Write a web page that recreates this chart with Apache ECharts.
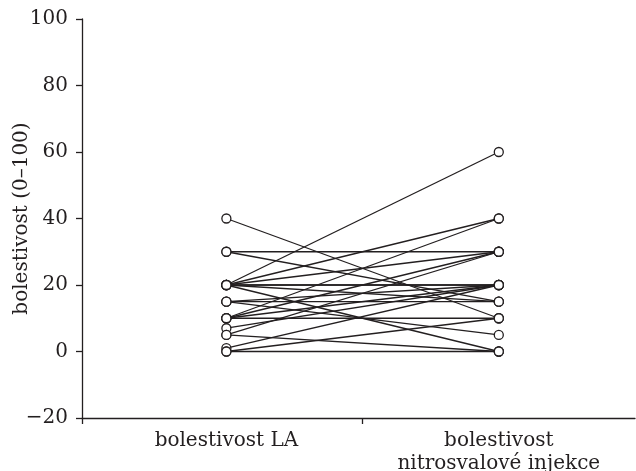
<!DOCTYPE html>
<html>
<head>
<meta charset="utf-8">
<script src="https://cdn.jsdelivr.net/npm/echarts@6/dist/echarts.min.js"></script>
<style>html,body{margin:0;padding:0;background:#fff}#c{width:636px;height:471px}</style>
</head>
<body>
<div id="c"></div>
<script>
var categories = ['bolestivost LA', 'bolestivost\nnitrosvalové injekce'];
var yTicks = [-20, 0, 20, 40, 60, 80, 100];
// paired values: before (LA) and after (nitrosvalová injekce)
var valuesLA =  [40, 30, 30, 20, 20, 20, 20, 20, 20, 20, 15, 15, 15, 10, 10, 10, 10, 7, 5, 5, 1, 0, 0];
var valuesInj = [10, 30, 15, 60, 40, 30, 20, 20, 15, 0, 15, 5, 20, 10, 40, 20, 30, 20, 30, 0, 20, 0, 10];

var ink = '#231f20';
var serif = 'DejaVu Serif';
var series = [];
for (var i = 0; i < valuesLA.length; i++) {
  series.push({
    type: 'line',
    data: [[1, valuesLA[i]], [2, valuesInj[i]]],
    symbol: 'none',
    lineStyle: { color: ink, width: 1.3 },
    z: 2,
    silent: true
  });
}
var pts = [];
for (var j = 0; j < valuesLA.length; j++) {
  pts.push([1, valuesLA[j]]);
  pts.push([2, valuesInj[j]]);
}
series.push({
  type: 'scatter',
  data: pts,
  symbol: 'circle',
  symbolSize: 9,
  itemStyle: { color: '#fff', borderColor: ink, borderWidth: 1.3, opacity: 1 },
  z: 5,
  silent: true
});

var chart = echarts.init(document.getElementById('c'), null, { renderer: 'canvas' });
chart.setOption({
  animation: false,
  backgroundColor: '#fff',
  grid: { left: 82, right: 1, top: 19, bottom: 53, containLabel: false, outerBoundsMode: 'none' },
  xAxis: {
    type: 'value',
    min: 0.47,
    max: 2.5,
    axisLine: { show: true, onZero: false, lineStyle: { color: ink, width: 1.3 } },
    axisTick: { show: true, customValues: [0.47, 1.5], length: 6, lineStyle: { color: ink, width: 1.3 } },
    axisLabel: {
      customValues: [1, 2],
      formatter: function (v) { return categories[Math.round(v) - 1]; },
      fontFamily: serif, fontSize: 20, color: ink, lineHeight: 23, margin: 11
    },
    splitLine: { show: false }
  },
  yAxis: {
    type: 'value',
    min: yTicks[0],
    max: yTicks[yTicks.length - 1],
    interval: 20,
    name: 'bolestivost (0–100)',
    nameLocation: 'middle',
    nameGap: 50,
    nameMoveOverlap: false,
    nameTextStyle: { fontFamily: serif, fontSize: 20, color: ink },
    axisLine: { show: true, lineStyle: { color: ink, width: 1.3 } },
    axisTick: { show: true, length: 6, lineStyle: { color: ink, width: 1.3 } },
    axisLabel: {
      fontFamily: serif, fontSize: 20, color: ink, margin: 14,
      formatter: function (v) { return v < 0 ? '\u2212' + Math.abs(v) : String(v); }
    },
    splitLine: { show: false }
  },
  series: series
});
</script>
</body>
</html>
